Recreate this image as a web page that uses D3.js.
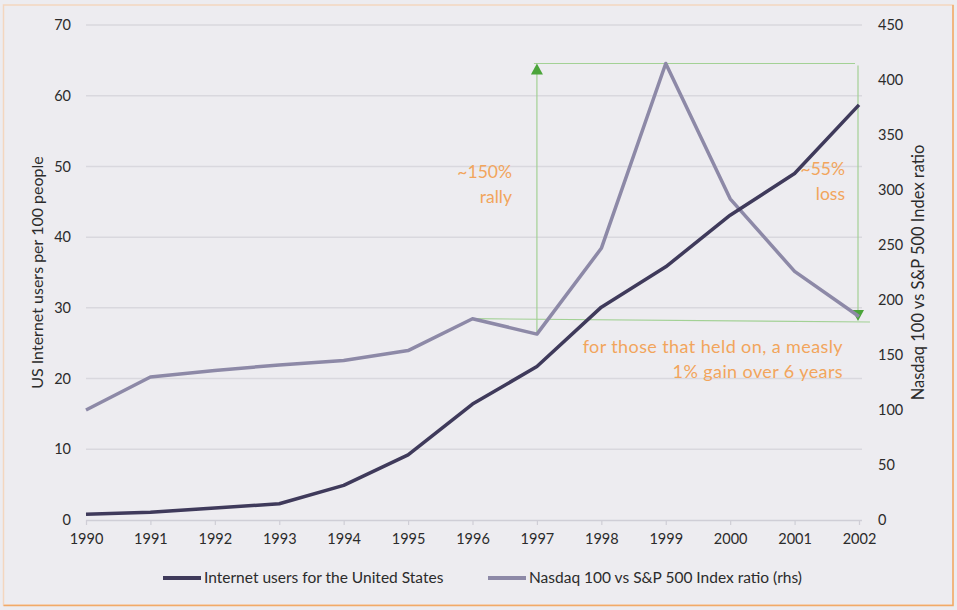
<!DOCTYPE html>
<html>
<head>
<meta charset="utf-8">
<script src="https://cdn.jsdelivr.net/npm/d3@7"></script>
<style>
  html, body { margin: 0; padding: 0; background: #edecf0; }
  svg { display: block; font-family: Lato, "Open Sans", sans-serif; }
</style>
</head>
<body>
<div id="chart"></div>
<script>
// Internet adoption vs Nasdaq/S&P ratio, 1990-2002
const years = [1990, 1991, 1992, 1993, 1994, 1995, 1996, 1997, 1998, 1999, 2000, 2001, 2002];
const users = [0.8, 1.1, 1.7, 2.3, 4.9, 9.2, 16.4, 21.7, 30.1, 35.8, 43.1, 49.0, 58.7];
const ratio = [100, 130, 136, 141, 145, 154, 183, 169, 247, 415, 292, 226, 185];
const leftTicks = [0, 10, 20, 30, 40, 50, 60, 70];
const rightTicks = [0, 50, 100, 150, 200, 250, 300, 350, 400, 450];
const seriesNames = ["Internet users for the United States", "Nasdaq 100 vs S&P 500 Index ratio (rhs)"];

const width = 957;
const height = 610;
const m = { left: 86, right: 99, top: 25, bottom: 90 };

const darkCol = "#3f3a5b";
const lightCol = "#8d89a7";
const greenLine = "#a3d195";
const greenArrow = "#4ba43a";
const orange = "#f2a55c";
const textCol = "#2b2b2b";

const svg = d3
  .select("#chart")
  .append("svg")
  .attr("width", width)
  .attr("height", height);

// frame
svg.append("rect").attr("width", width).attr("height", height).attr("fill", "#edecf0");
svg
  .append("rect")
  .attr("x", 3.5)
  .attr("y", 5)
  .attr("width", 949.5)
  .attr("height", 600)
  .attr("fill", "none")
  .attr("stroke", "#f4d6bf")
  .attr("stroke-width", 1.5);
svg
  .append("path")
  .attr("d", "M953,5 V605.5 H3.5")
  .attr("fill", "none")
  .attr("stroke", "#f1aa68")
  .attr("stroke-width", 1.5);

const x = d3
  .scaleLinear()
  .domain([years[0], years[years.length - 1]])
  .range([m.left, width - m.right + 1]);
const yL = d3.scaleLinear().domain([0, 70]).range([height - m.bottom, m.top]);
const yR = d3.scaleLinear().domain([0, 450]).range([height - m.bottom, m.top]);

// gridlines
svg
  .append("g")
  .selectAll("line")
  .data(leftTicks.slice(1))
  .enter()
  .append("line")
  .attr("x1", m.left)
  .attr("x2", width - m.right + 4)
  .attr("y1", (d) => yL(d))
  .attr("y2", (d) => yL(d))
  .attr("stroke", "#d9d8de")
  .attr("stroke-width", 1.5);

// x axis
const xAxis = svg
  .append("g")
  .attr("transform", `translate(0,${yL(0)})`)
  .call(
    d3.axisBottom(x)
      .tickValues(years)
      .tickFormat(d3.format("d"))
      .tickSize(5)
      .tickPadding(9)
  );
xAxis.select(".domain").attr("stroke", "#cfced6").attr("stroke-width", 1.5).attr("d", `M${m.left},0.5H${width - m.right + 4}`);
xAxis.selectAll(".tick line").attr("stroke", "#cfced6").attr("stroke-width", 1.2);
xAxis.selectAll("text").attr("font-size", 14.5).attr("fill", textCol).attr("font-family", "Lato, sans-serif");

// left axis
const leftAxis = svg
  .append("g")
  .attr("transform", `translate(${m.left},0)`)
  .call(d3.axisLeft(yL).tickValues(leftTicks).tickSize(0).tickPadding(15));
leftAxis.select(".domain").remove();
leftAxis.selectAll("text").attr("font-size", 14.5).attr("fill", textCol).attr("font-family", "Lato, sans-serif");

// right axis
const rightAxis = svg
  .append("g")
  .attr("transform", `translate(${width - m.right},0)`)
  .call(d3.axisRight(yR).tickValues(rightTicks).tickSize(0).tickPadding(20));
rightAxis.select(".domain").remove();
rightAxis.selectAll("text").attr("font-size", 14.5).attr("fill", textCol).attr("font-family", "Lato, sans-serif");

// axis titles
svg
  .append("text")
  .attr("transform", `translate(43,${(m.top + height - m.bottom) / 2}) rotate(-90)`)
  .attr("text-anchor", "middle")
  .attr("font-size", 16)
  .attr("fill", textCol)
  .text("US Internet users per 100 people");
svg
  .append("text")
  .attr("transform", `translate(924,${(m.top + height - m.bottom) / 2}) rotate(-90)`)
  .attr("text-anchor", "middle")
  .attr("font-size", 16.5)
  .attr("fill", textCol)
  .text("Nasdaq 100 vs S&P 500 Index ratio");

// annotation guides (green)
const i96 = years.indexOf(1996);
const i97 = years.indexOf(1997);
const iPeak = years.indexOf(1999);
const iLast = years.length - 1;
const peak = ratio[iPeak];
const base = 181;
const ann = svg.append("g").attr("fill", "none").attr("stroke", greenLine).attr("stroke-width", 1.2);
ann.append("line")
  .attr("x1", x(years[i96])).attr("y1", yR(ratio[i96]))
  .attr("x2", x(years[iLast]) + 11).attr("y2", yR(base - 1));
ann.append("line")
  .attr("x1", x(years[i97])).attr("y1", yR(ratio[i97]))
  .attr("x2", x(years[i97])).attr("y2", yR(peak) + 8);
ann.append("line")
  .attr("x1", x(years[i97]) - 3).attr("y1", yR(peak))
  .attr("x2", x(years[iLast]) - 4).attr("y2", yR(peak));
ann.append("line")
  .attr("x1", x(years[iLast]) - 1).attr("y1", yR(peak) + 2)
  .attr("x2", x(years[iLast]) - 1).attr("y2", yR(base) - 8);

// arrow heads
const arrowUp = [x(years[i97]), yR(peak)];
svg.append("path")
  .attr("d", `M${arrowUp[0]},${arrowUp[1]} l-6,11 h12 z`)
  .attr("fill", greenArrow);
const arrowDown = [x(years[iLast]) - 1, yR(base)];
svg.append("path")
  .attr("d", `M${arrowDown[0]},${arrowDown[1]} l-6,-11 h12 z`)
  .attr("fill", greenArrow);

// series lines
const lineL = d3.line().x((d, i) => x(years[i])).y((d) => yL(d));
const lineR = d3.line().x((d, i) => x(years[i])).y((d) => yR(d));

svg.append("path")
  .datum(ratio)
  .attr("d", lineR)
  .attr("fill", "none")
  .attr("stroke", lightCol)
  .attr("stroke-width", 3.5)
  .attr("stroke-linejoin", "round");

svg.append("path")
  .datum(users)
  .attr("d", lineL)
  .attr("fill", "none")
  .attr("stroke", darkCol)
  .attr("stroke-width", 3.5)
  .attr("stroke-linejoin", "round");

// annotation texts
const notes = [
  { x: 512, y: 178, size: 17.5, spacing: 0, lines: ["~150%", "rally"] },
  { x: 845, y: 175, size: 17.5, spacing: 0, lines: ["~55%", "loss"] },
  { x: 843, y: 353, size: 18, spacing: 0.4, lines: ["for those that held on, a measly", "1% gain over 6 years"] },
];
notes.forEach((n) => {
  const t = svg.append("text")
    .attr("text-anchor", "end")
    .attr("font-size", n.size)
    .attr("letter-spacing", n.spacing)
    .attr("fill", orange);
  n.lines.forEach((l, k) => {
    t.append("tspan").attr("x", n.x).attr("y", n.y + k * 25).text(l);
  });
});

// legend
const legend = [
  { x: 163, color: darkCol, name: seriesNames[0] },
  { x: 488, color: lightCol, name: seriesNames[1] },
];
const lg = svg.append("g").selectAll("g").data(legend).enter().append("g")
  .attr("transform", (d) => `translate(${d.x},578)`);
lg.append("line")
  .attr("x1", 0).attr("x2", 38).attr("y1", 0).attr("y2", 0)
  .attr("stroke", (d) => d.color).attr("stroke-width", 4);
lg.append("text")
  .attr("x", 41).attr("y", 5)
  .attr("font-size", 15.5)
  .attr("fill", textCol)
  .text((d) => d.name);
</script>
</body>
</html>
